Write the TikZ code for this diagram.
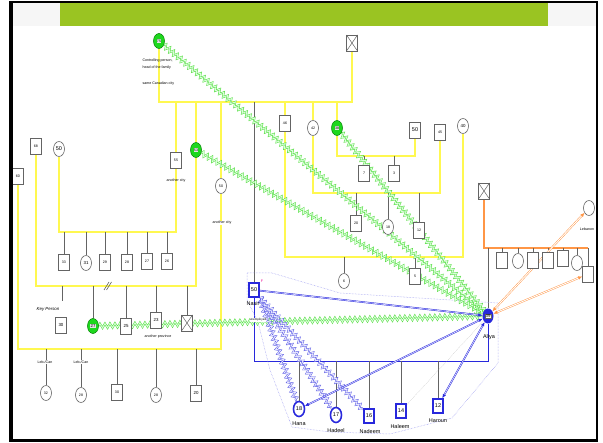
\documentclass[tikz,border=0pt]{standalone}
\usepackage{fontspec}
\setmainfont{Liberation Sans}
\usetikzlibrary{shapes.geometric,decorations.pathmorphing,arrows.meta}
\definecolor{ylwc}{RGB}{255,248,80}
\definecolor{gbar}{RGB}{154,196,34}
\definecolor{gz}{RGB}{80,220,60}
\definecolor{gfill}{RGB}{30,215,30}
\definecolor{bl}{RGB}{40,40,220}
\definecolor{orgc}{RGB}{255,150,70}
\definecolor{lav}{RGB}{150,150,240}
\definecolor{gl}{RGB}{100,100,100}
\newcommand\fa{\fontsize{3.6}{4}\selectfont}
\newcommand\fb{\fontsize{5.5}{6}\selectfont}
\newcommand\fc{\fontsize{4.4}{5}\selectfont}
\pgfdeclarelayer{bg}\pgfsetlayers{bg,main}
\begin{document}
\begin{tikzpicture}[x=1pt,y=-1pt,
 pbox/.style={rectangle, draw=gl, fill=white, line width=0.6pt, minimum width=11pt, minimum height=16pt, inner sep=0pt, font=\fa},
 pcirc/.style={ellipse, draw=gl, fill=white, line width=0.6pt, minimum width=11pt, minimum height=15pt, inner sep=0pt, font=\fa},
 xbox/.style={pbox, path picture={\draw[gl, line width=0.5pt] (path picture bounding box.north west) -- (path picture bounding box.south east) (path picture bounding box.south west) -- (path picture bounding box.north east);}},
 gcirc/.style={ellipse, draw=green!50!black, fill=gfill, line width=0.5pt, minimum width=11pt, minimum height=15pt, inner sep=0pt},
 inlab/.style={fill=#1, inner sep=0.4pt, font=\fa},
 bbox/.style={pbox, draw=bl, line width=1.8pt, minimum width=10pt, minimum height=14pt, font=\fb},
 bcirc/.style={pcirc, draw=bl, line width=1.6pt, font=\fb},
 ylw/.style={draw=ylwc, line width=1.3pt},
 gln/.style={draw=gl, line width=0.7pt},
 txt/.style={font=\fa, inner sep=0.3pt},
 nm/.style={font=\fb, inner sep=0pt},
 gzig/.style={draw=gz, line width=0.5pt, double=green!15, double distance=0.9pt, decorate, decoration={zigzag, segment length=5pt, amplitude=2.2pt}},
 bzig/.style={draw=bl!85, line width=0.4pt, double=blue!10, double distance=0.9pt, decorate, decoration={zigzag, segment length=5pt, amplitude=2.2pt}},
 barr/.style={draw=bl, line width=0.45pt, double=blue!15, double distance=0.7pt},
 oarr/.style={draw=orgc, line width=0.45pt, double=white, double distance=0.9pt}
]
\useasboundingbox (0,0) rectangle (603,443);
\begin{pgfonlayer}{bg}
\fill[white] (0,0) rectangle (603,443);
\end{pgfonlayer}
% title bar
\fill[gray!7] (13,3) rectangle (60,26);
\fill[gray!7] (548,3) rectangle (596,26);
\fill[gbar] (60,3.5) rectangle (548,26);

% ---------- nodes ----------
\node[gcirc] (g75) at (159,41) {}; \node[inlab=gray!20] (g75t) at (g75) {75};
\node[xbox] (x1) at (352,43) {};
\node[txt, anchor=west] (t1) at (142,61) {Controlling person,};
\node[txt, anchor=west] (t2) at (142,68) {head of the family};
\node[txt, anchor=west] (t3) at (142,84) {same Canadian city};

\node[pbox] (n55) at (176,160) {55};
\node[txt] (t4) at (176,181) {another city};
\node[gcirc] (g53) at (196,150) {}; \node[inlab=gray!20] (g53t) at (g53) {53};
\node[pcirc] (n50b) at (221,186) {50};
\node[txt, fill=white] (t5) at (222,223) {another city};
\node[pbox] (n68) at (36,146) {68};
\node[pcirc, font=\fb] (n50a) at (59,149) {50};
\node[pbox] (n60) at (18,176) {60};

\node[pbox] (k33) at (64,262) {33};
\node[pcirc, font=\fc] (k31) at (86,263) {31};
\node[pbox] (k29) at (105,262) {29};
\node[pbox] (k28) at (127,262) {28};
\node[pbox] (k27) at (147,261) {27};
\node[pbox] (k26) at (167,261) {26};

\node[font=\fc\itshape, inner sep=0pt] (kp) at (48,309) {Key Person};
\node[pbox, font=\fc] (k30) at (61,325) {30};
\node[gcirc] (g27) at (93,326) {}; \node[inlab=gray!20, font=\fc] (g27t) at (g27) {27};
\node[pbox, font=\fc] (k25) at (126,326) {25};
\node[pbox, font=\fc] (k23) at (156,320) {23};
\node[txt] (t6) at (158,337) {another province};
\node[xbox] (x3) at (187,323) {};

\node[txt, fill=white] (t7) at (45,362) {Leb./Can};
\node[txt, fill=white] (t8) at (81,362) {Leb./Can};
\node[pcirc] (m32) at (46,393) {32};
\node[pcirc] (m28a) at (81,395) {28};
\node[pbox] (m30) at (117,392) {30};
\node[pcirc] (m28b) at (156,395) {28};
\node[pbox, font=\fc] (m20) at (196,393) {20};

\node[pbox] (n46) at (285,123) {46};
\node[pcirc] (n42) at (313,128) {42};
\node[gcirc] (g38) at (337,128) {}; \node[inlab=gray!20] (g38t) at (g38) {38};
\node[pbox, font=\fb] (n50c) at (415,130) {50};
\node[pbox] (n45) at (440,132) {45};
\node[pcirc, font=\fc] (n40) at (463,126) {40};
\node[pbox] (c7) at (364,173) {7};
\node[pbox] (c3) at (394,173) {3};
\node[pbox] (c20) at (356,223) {20};
\node[pcirc] (c18) at (388,227) {18};
\node[pbox] (c12) at (419,230) {12};
\node[pcirc] (c6) at (344,281) {6};
\node[pbox] (c5) at (415,276) {5};

\node[bbox] (nasir) at (254,290) {50};
\node[nm] (tnasir) at (253,304) {Nasir};
\node[txt, fill=white, font=\fontsize{3}{3.5}\selectfont] (tun) at (258,320) {unemployed};
\node[text=magenta, font=\fa, inner sep=0pt] (tf) at (262,281) {F};
\node[ellipse, fill=bl, minimum width=11pt, minimum height=15pt, inner sep=0pt] (aliya) at (488,316) {};
\node[inlab=white, font=\fc, draw=gl, line width=0.3pt] (aliyat) at (aliya) {39};
\node[nm] (taliya) at (489,337) {Aliya};
\node[bcirc] (hana) at (299,409) {18};
\node[bcirc] (hadeel) at (336,415) {17};
\node[bbox] (nadeem) at (369,416) {16};
\node[bbox] (haleem) at (401,411) {14};
\node[bbox] (haroun) at (438,406) {12};
\node[nm] (thana) at (299,424) {Hana};
\node[nm] (thadeel) at (336,431) {Hadeel};
\node[nm] (tnadeem) at (370,432) {Nadeem};
\node[nm] (thaleem) at (400,427) {Haleem};
\node[nm] (tharoun) at (438,421) {Haroun};

\node[xbox] (x2) at (484,191) {};
\node[pcirc] (leb) at (589,208) {};
\node[txt] (tleb) at (587,229) {Lebanon};
\node[pbox] (o1) at (502,260) {};
\node[pcirc] (o2) at (518,261) {};
\node[pbox] (o3) at (533,260) {};
\node[pbox] (o4) at (548,260) {};
\node[pbox] (o5) at (563,258) {};
\node[pcirc] (o6) at (577,263) {};
\node[pbox] (o7) at (588,274) {};

% ---------- lines ----------
\begin{pgfonlayer}{bg}
\draw[ylw] (g75) -- (g75 |- 0,102) -- (x1 |- 0,102) -- (x1);
\foreach \n in {n55,g53,n50b,n46,n42,g38} \draw[ylw] (\n |- 0,102) -- (\n);
\draw[gln] (nasir |- 0,102) -- (nasir);
\draw[ylw] (n55) -- (n55 |- 0,232) -| (n50a);
\foreach \n in {k33,k31,k29,k28,k27,k26} \draw[gln] (\n |- 0,232) -- (\n);
\draw[ylw] (g53) -- (g53 |- 0,286) -| (n68);
\coordinate (kpend) at (62,301);
\draw[gln] (kpend |- 0,286) -- (kpend);
\foreach \n in {g27,k25,k23,x3} \draw[gln] (\n |- 0,286) -- (\n);
\draw[gl, line width=0.6pt] (104,290) -- (109,282) (106.5,290) -- (111.5,282);
\draw[ylw] (n50b) -- (n50b |- 0,349) -| (n60);
\foreach \n in {m32,m28a,m30,m28b,m20} \draw[gln] (\n |- 0,349) -- (\n);
\draw[ylw] (n46) -- (n46 |- 0,257) -| (n40);
\foreach \n in {c6,c5} \draw[gln] (\n |- 0,257) -- (\n);
\draw[ylw] (n42) -- (n42 |- 0,193) -| (n45);
\foreach \n in {c20,c18,c12} \draw[gln] (\n |- 0,193) -- (\n);
\draw[ylw] (g38) -- (g38 |- 0,156) -| (n50c);
\foreach \n in {c7,c3} \draw[gln] (\n |- 0,156) -- (\n);
\draw[draw=orgc, line width=1.2pt] (x2) -- (x2 |- 0,248) -- (o7 |- 0,248);
\foreach \n in {o1,o2,o3,o4,o5,o6,o7,aliya} \draw[gln] (\n |- 0,248) -- (\n);
\draw[draw=bl, line width=0.9pt] (nasir) -- (nasir |- 0,361) -- (aliya |- 0,361) -- (aliya);
\foreach \n in {hana,hadeel,nadeem,haleem,haroun} \draw[gln] (\n |- 0,361) -- (\n);
\draw[lav, densely dotted, line width=0.5pt] (247,273) -- (272,273) -- (340,293) -- (498,303) -- (498,363) -- (452,418) -- (390,434) -- (330,432) -- (292,427) -- (270,370) -- (258,322) -- (247,300) -- cycle;
\draw[gzig] (g75) -- (aliya);
\draw[gzig] (g53) -- (aliya);
\draw[gzig] (g38) -- (aliya);
\draw[gzig] (g27) -- (aliya);
\draw[bzig] (nasir.south east) -- (hana);
\draw[bzig] (nasir.south east) -- (hadeel);
\draw[bzig] (nasir.south east) -- (nadeem);
\draw[barr, -{Latex[length=4pt,width=3.5pt]}] (nasir) -- (aliya);
\draw[barr, {Latex[length=4pt,width=3.5pt]}-{Latex[length=4pt,width=3.5pt]}] (aliya) -- (hana);
\draw[barr, {Latex[length=4pt,width=3.5pt]}-{Latex[length=4pt,width=3.5pt]}] (aliya) -- (haroun);
\draw[gl!70, densely dotted, line width=0.3pt] (aliya) -- (haleem);
\draw[oarr, {Latex[length=4pt,width=3.5pt]}-{Latex[length=4pt,width=3.5pt]}] (aliya) -- (leb);
\draw[oarr, {Latex[length=4pt,width=3.5pt]}-{Latex[length=4pt,width=3.5pt]}] (aliya) -- (o7);
\end{pgfonlayer}

% frame
\fill[black] (9,1) rectangle (598,2.6);
\fill[black] (9,1) rectangle (13,442.5);
\fill[black] (9,439.5) rectangle (598,442.5);
\fill[black] (595.8,1) rectangle (598,442.5);
\end{tikzpicture}
\end{document}
